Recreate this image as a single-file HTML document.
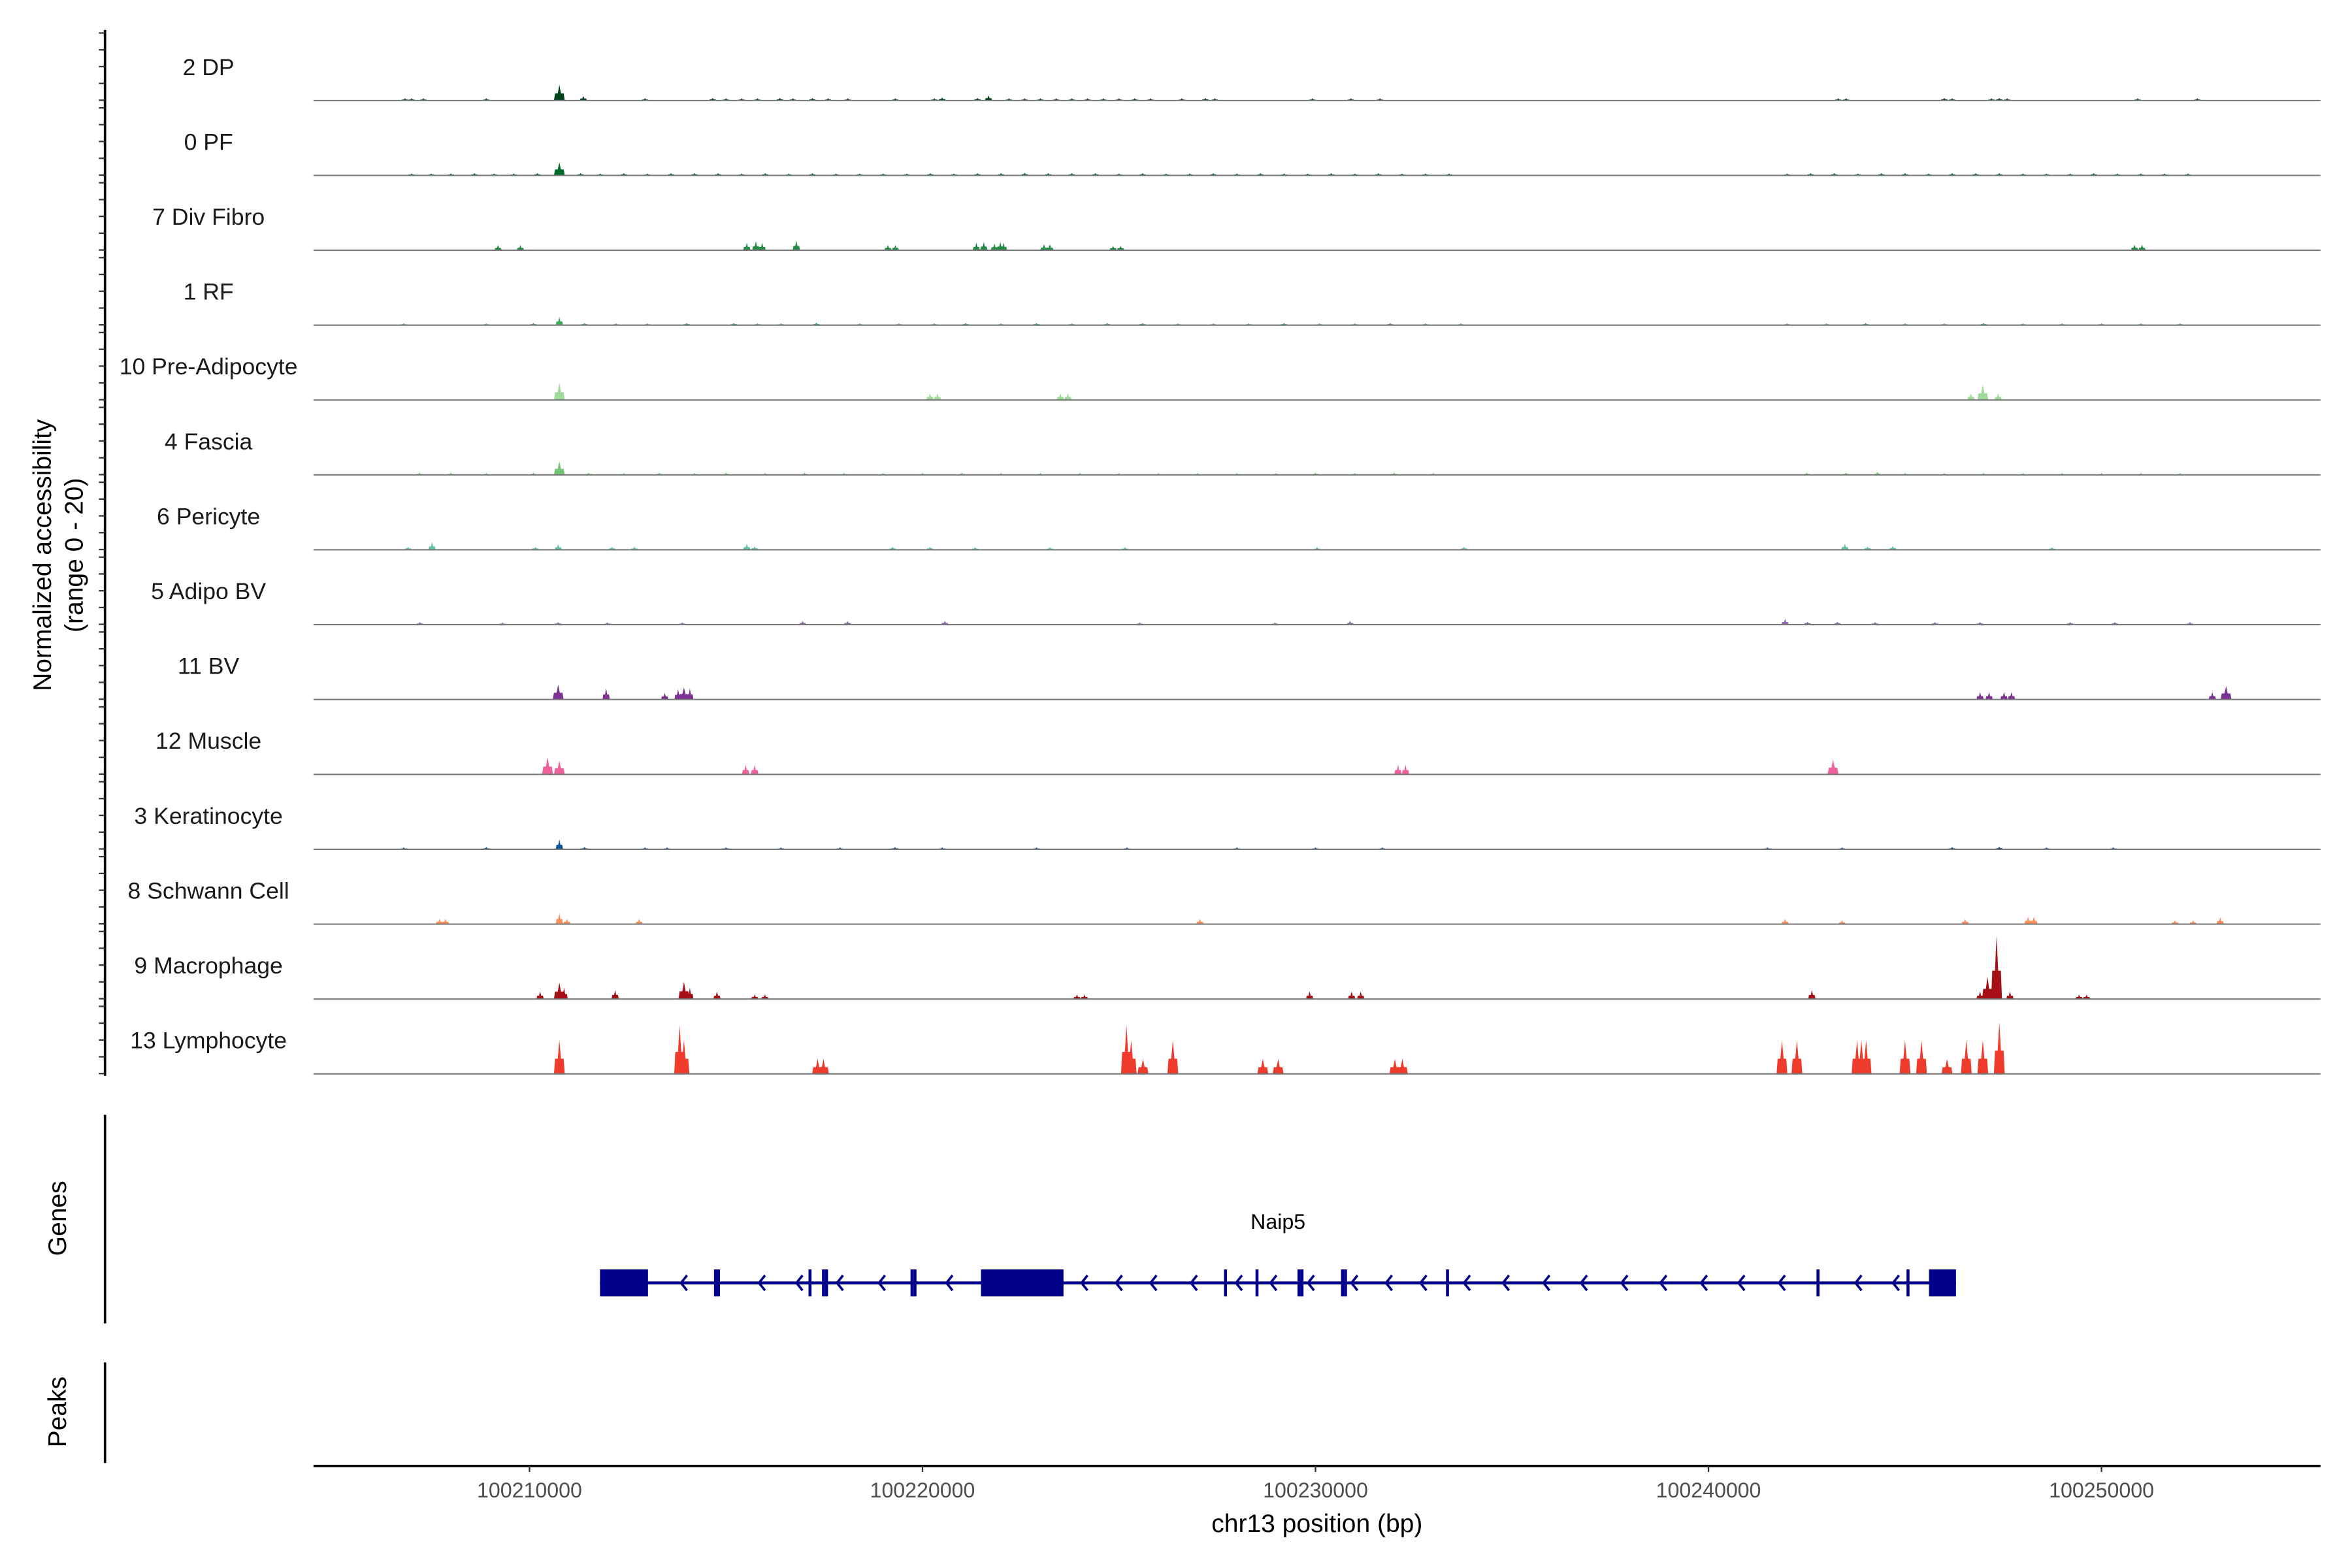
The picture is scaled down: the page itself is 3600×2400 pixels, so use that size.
<!DOCTYPE html>
<html><head><meta charset="utf-8"><style>
html,body{margin:0;padding:0;background:#fff}
svg{display:block;font-family:"Liberation Sans",Arial,sans-serif}
</style></head><body>
<svg id="chart" width="3600" height="2400" viewBox="0 0 1568 1045" preserveAspectRatio="none" xmlns="http://www.w3.org/2000/svg">
<g id="tracks"></g>
<g id="left-axis"></g>
<text transform="translate(34,370) rotate(-90)" text-anchor="middle" font-size="17" fill="#000">Normalized accessibility</text>
<text transform="translate(55,370) rotate(-90)" text-anchor="middle" font-size="17" fill="#000">(range 0 - 20)</text>
<line x1="70" y1="743" x2="70" y2="882" stroke="#000" stroke-width="1.6"/>
<text transform="translate(44,812) rotate(-90)" text-anchor="middle" font-size="17">Genes</text>
<line x1="70" y1="908" x2="70" y2="975" stroke="#000" stroke-width="1.6"/>
<text transform="translate(44,941) rotate(-90)" text-anchor="middle" font-size="17">Peaks</text>
<g id="gene"></g>
<text x="852" y="819" text-anchor="middle" font-size="14">Naip5</text>
<g id="xaxis"></g>
<text x="878" y="1021" text-anchor="middle" font-size="17">chr13 position (bp)</text>
</svg>
<script>
const trackNames=["2 DP","0 PF","7 Div Fibro","1 RF","10 Pre-Adipocyte","4 Fascia","6 Pericyte","5 Adipo BV","11 BV","12 Muscle","3 Keratinocyte","8 Schwann Cell","9 Macrophage","13 Lymphocyte"];
const trackColors=["#00441b","#006d2c","#238b45","#41ab5d","#a1d99b","#74c476","#66c2a4","#8c6bb1","#7b3294","#f0609c","#08519c","#fc8d59","#a50f15","#ef3b2c"];
const xTicks=[100210000,100220000,100230000,100240000,100250000];
// positions in kb (100,000 kb + value), heights in normalized units (0-20)
const pos0=[206.83,207.0,207.3,208.9,210.76,211.37,212.94,214.66,215.0,215.4,215.8,216.37,216.7,217.2,217.6,218.1,219.31,220.3,220.5,221.4,221.68,222.2,222.6,223.0,223.4,223.8,224.2,224.6,225.0,225.4,225.8,226.6,227.2,227.44,229.92,230.9,231.64,243.3,243.5,246.0,246.2,247.2,247.4,247.6,250.92,252.44];
const h0=[0.6,0.6,0.6,0.6,4.2,1.2,0.6,0.7,0.6,0.6,0.6,0.7,0.6,0.7,0.6,0.6,0.6,0.6,0.8,0.7,1.4,0.6,0.6,0.6,0.6,0.6,0.6,0.6,0.6,0.6,0.6,0.6,0.7,0.6,0.6,0.6,0.6,0.6,0.6,0.7,0.6,0.6,0.7,0.6,0.6,0.6];
const pos1=[207.0,207.5,208.0,208.6,209.1,209.6,210.2,210.76,211.3,211.8,212.4,213.0,213.6,214.2,214.8,215.4,216.0,216.6,217.2,217.8,218.4,219.0,219.6,220.2,220.8,221.4,222.0,222.6,223.2,223.8,224.4,225.0,225.6,226.2,226.8,227.4,228.0,228.6,229.2,229.8,230.4,231.0,231.6,232.2,232.8,233.4,242.0,242.6,243.2,243.8,244.4,245.0,245.6,246.2,246.8,247.4,248.0,248.6,249.2,249.8,250.4,251.0,251.6,252.2];
const h1=[0.5,0.5,0.5,0.6,0.5,0.5,0.6,3.5,0.6,0.5,0.6,0.5,0.6,0.6,0.6,0.5,0.6,0.5,0.6,0.5,0.5,0.5,0.5,0.6,0.5,0.6,0.6,0.7,0.6,0.6,0.6,0.5,0.6,0.5,0.5,0.6,0.5,0.6,0.5,0.5,0.6,0.5,0.6,0.5,0.5,0.5,0.5,0.6,0.6,0.5,0.6,0.6,0.5,0.6,0.6,0.6,0.5,0.5,0.5,0.6,0.5,0.5,0.5,0.5];
const pos2=[209.2,209.77,215.53,215.76,215.92,216.79,219.12,219.31,221.37,221.56,221.83,221.98,222.06,223.09,223.24,224.85,225.04,250.84,251.03];
const h2=[1.4,1.4,2.0,2.4,2.0,2.6,1.4,1.4,2.0,2.2,1.8,2.2,2.0,1.6,1.6,1.2,1.2,1.5,1.5];
const pos3=[206.8,208.9,210.1,210.76,211.4,212.2,213.0,214.0,215.2,215.8,216.4,217.3,218.4,219.4,220.3,221.1,222.0,222.9,223.8,224.7,225.6,226.5,227.4,228.3,229.2,230.1,231.0,231.9,232.8,233.7,242.0,243.0,244.0,245.0,246.0,247.0,248.0,249.0,250.0,251.0,252.0];
const h3=[0.5,0.5,0.6,2.2,0.6,0.5,0.5,0.6,0.6,0.5,0.5,0.7,0.5,0.5,0.5,0.6,0.5,0.6,0.5,0.6,0.6,0.5,0.5,0.5,0.6,0.5,0.5,0.6,0.5,0.5,0.5,0.5,0.6,0.5,0.5,0.6,0.5,0.5,0.5,0.5,0.5];
const pos4=[210.76,220.19,220.38,223.51,223.7,246.68,246.98,247.37];
const h4=[4.6,1.8,1.8,1.8,1.8,1.8,4.0,1.8];
const pos5=[207.2,208.0,208.9,210.1,210.76,211.5,212.4,213.3,214.2,215.0,216.0,217.0,218.0,219.0,220.0,221.0,222.0,223.0,224.0,225.0,226.0,227.0,228.0,229.0,230.0,231.0,232.0,233.0,242.5,243.5,244.3,245.0,246.0,247.0,248.0,249.0,250.0,251.0,252.0];
const h5=[0.6,0.6,0.5,0.6,3.6,0.6,0.5,0.6,0.5,0.6,0.5,0.6,0.5,0.5,0.5,0.6,0.5,0.5,0.5,0.5,0.5,0.5,0.5,0.5,0.6,0.5,0.6,0.5,0.6,0.6,0.8,0.5,0.5,0.5,0.5,0.5,0.5,0.5,0.5];
const pos6=[206.91,207.52,210.15,210.73,212.1,212.67,215.53,215.73,219.24,220.19,221.34,223.24,225.15,230.04,233.78,243.47,244.05,244.69,248.74];
const h6=[0.8,2.0,0.8,1.5,0.8,0.8,1.6,0.9,0.8,0.8,0.7,0.7,0.7,0.7,0.8,1.6,0.9,1.0,0.7];
const pos7=[207.21,209.31,210.73,211.98,213.89,216.95,218.09,220.57,225.53,228.97,230.88,241.95,242.52,243.28,244.24,245.76,246.91,249.2,250.34,252.25];
const h7=[0.7,0.6,0.7,0.6,0.6,1.0,1.0,1.0,0.6,0.6,1.0,1.6,0.8,0.8,0.7,0.7,0.7,0.7,0.7,0.7];
const pos8=[210.73,211.95,213.44,213.78,213.93,214.08,246.91,247.14,247.52,247.71,252.82,253.17];
const h8=[4.0,3.0,1.8,2.8,3.2,3.0,2.0,2.0,2.0,2.0,2.0,3.6];
const pos9=[210.46,210.76,215.5,215.73,232.1,232.29,243.17];
const h9=[4.6,3.6,2.6,2.6,2.6,2.6,4.0];
const pos10=[206.8,208.9,210.76,211.4,212.94,213.5,215.0,216.4,217.9,219.3,220.5,222.9,225.2,228.0,230.0,231.7,241.5,243.4,246.2,247.4,248.6,250.3];
const h10=[0.5,0.6,2.6,0.6,0.5,0.5,0.5,0.5,0.5,0.6,0.5,0.5,0.5,0.5,0.5,0.5,0.5,0.5,0.6,0.7,0.5,0.5];
const pos11=[207.71,207.86,210.76,210.95,212.79,227.06,241.95,243.4,246.53,248.13,248.28,251.87,252.33,253.02];
const h11=[1.4,1.4,3.0,1.4,1.4,1.4,1.4,1.0,1.4,2.0,2.0,1.0,1.0,1.8];
const pos12=[210.27,210.76,210.88,212.18,213.93,214.08,214.77,215.73,215.99,223.93,224.12,229.85,230.92,231.15,242.63,246.91,247.1,247.33,247.67,249.43,249.62];
const h12=[2.0,4.4,3.0,2.4,4.6,3.0,2.0,1.2,1.2,1.2,1.2,2.0,2.0,2.0,2.4,2.0,6.0,16.8,2.0,1.2,1.2];
const pos13=[210.76,213.82,213.93,217.33,217.48,225.19,225.31,225.61,226.37,228.66,229.05,232.02,232.21,241.87,242.25,243.78,243.89,244.01,245.0,245.42,246.07,246.56,246.98,247.4];
const h13=[9,13,9,4,4,13,9,4,9,4,4,4,4,9,9,9,9,9,9,9,4,9,9,13.8];
const trackPos=[pos0,pos1,pos2,pos3,pos4,pos5,pos6,pos7,pos8,pos9,pos10,pos11,pos12,pos13];
const trackH=[h0,h1,h2,h3,h4,h5,h6,h7,h8,h9,h10,h11,h12,h13];

const NS="http://www.w3.org/2000/svg";
const X0=353, PXKB=26.2, XL=209, XR=1547;
function xScale(kb){return X0+(kb-210)*PXKB;}
function xScaleBp(bp){return X0+(bp-100210000)/1000*PXKB;}
const YMAX=20, TRACK_H=50;
function baseY(i){return 67+i*49.9;}
function yScale(i,v){return baseY(i)-v/YMAX*TRACK_H;}
function mk(tag,attrs,parent){const e=document.createElementNS(NS,tag);for(const k in attrs)e.setAttribute(k,attrs[k]);parent.appendChild(e);return e;}

const tg=document.getElementById('tracks');
trackNames.forEach((name,i)=>{
  const g=mk('g',{},tg);
  
  
  const t=mk('text',{x:139,y:baseY(i)-17,'text-anchor':'middle','font-size':15.5,fill:'#1a1a1a'},g);
  t.textContent=name;
  
  
  const ps=trackPos[i],hs=trackH[i];
  for(let j=0;j<ps.length;j++){
    const x=xScale(ps[j]),b=baseY(i),top=yScale(i,hs[j]);
    const w=hs[j]>3?3.6:2.4;
    const mid=b-(b-top)*0.45;
    const p=mk('polygon',{points:`${x-w},${b} ${x-w*0.8},${mid} ${x-w*0.3},${mid} ${x},${top} ${x+w*0.3},${mid} ${x+w*0.8},${mid} ${x+w},${b}`,fill:trackColors[i]},g);
    
    
  }
  const l=mk('line',{x1:XL,x2:XR,y1:baseY(i),y2:baseY(i),stroke:'#777',"stroke-width":0.9},g);
  
  
});

const la=document.getElementById('left-axis');
mk('line',{x1:70,y1:20,x2:70,y2:717,stroke:'#000','stroke-width':1.6},la);
for(let i=0;i<trackNames.length;i++){
  for(let k=0;k<5;k++){
    const y=baseY(i)-45+k*11.2;
    mk('line',{x1:66,x2:70,y1:y,y2:y,stroke:'#333','stroke-width':1},la);
  }
}

// gene model
const gg=document.getElementById('gene');
const C='#00008b';
mk('line',{x1:400,x2:1304,y1:855,y2:855,stroke:C,'stroke-width':2},gg);
[[400,432],[654,709],[1286,1304]].forEach(e=>mk('rect',{x:e[0],y:846,width:e[1]-e[0],height:18,fill:C},gg));
[477,479,540,549,551,608,610,817,838,866,868,895,897,965,1212,1272].forEach(x=>mk('rect',{x:x-1,y:846,width:2,height:18,fill:C},gg));
[455,507,532,559,587,632,722,745,768,795,825,848,873,902,925,948,977,1003,1030,1055,1082,1108,1135,1160,1187,1238,1263].forEach(x=>mk('polyline',{points:`${x+3},850 ${x-1},855 ${x+3},860`,fill:'none',stroke:C,'stroke-width':1.6},gg));

// x axis
const xa=document.getElementById('xaxis');
mk('line',{x1:XL,x2:XR,y1:977,y2:977,stroke:'#000','stroke-width':1.6},xa);
xTicks.forEach(v=>{
  const x=xScaleBp(v);
  mk('line',{x1:x,x2:x,y1:977,y2:981,stroke:'#333','stroke-width':1},xa);
  const t=mk('text',{x:x,y:998,'text-anchor':'middle','font-size':14,fill:'#4d4d4d'},xa);
  t.textContent=v;
  
  
});
</script>
</body></html>
